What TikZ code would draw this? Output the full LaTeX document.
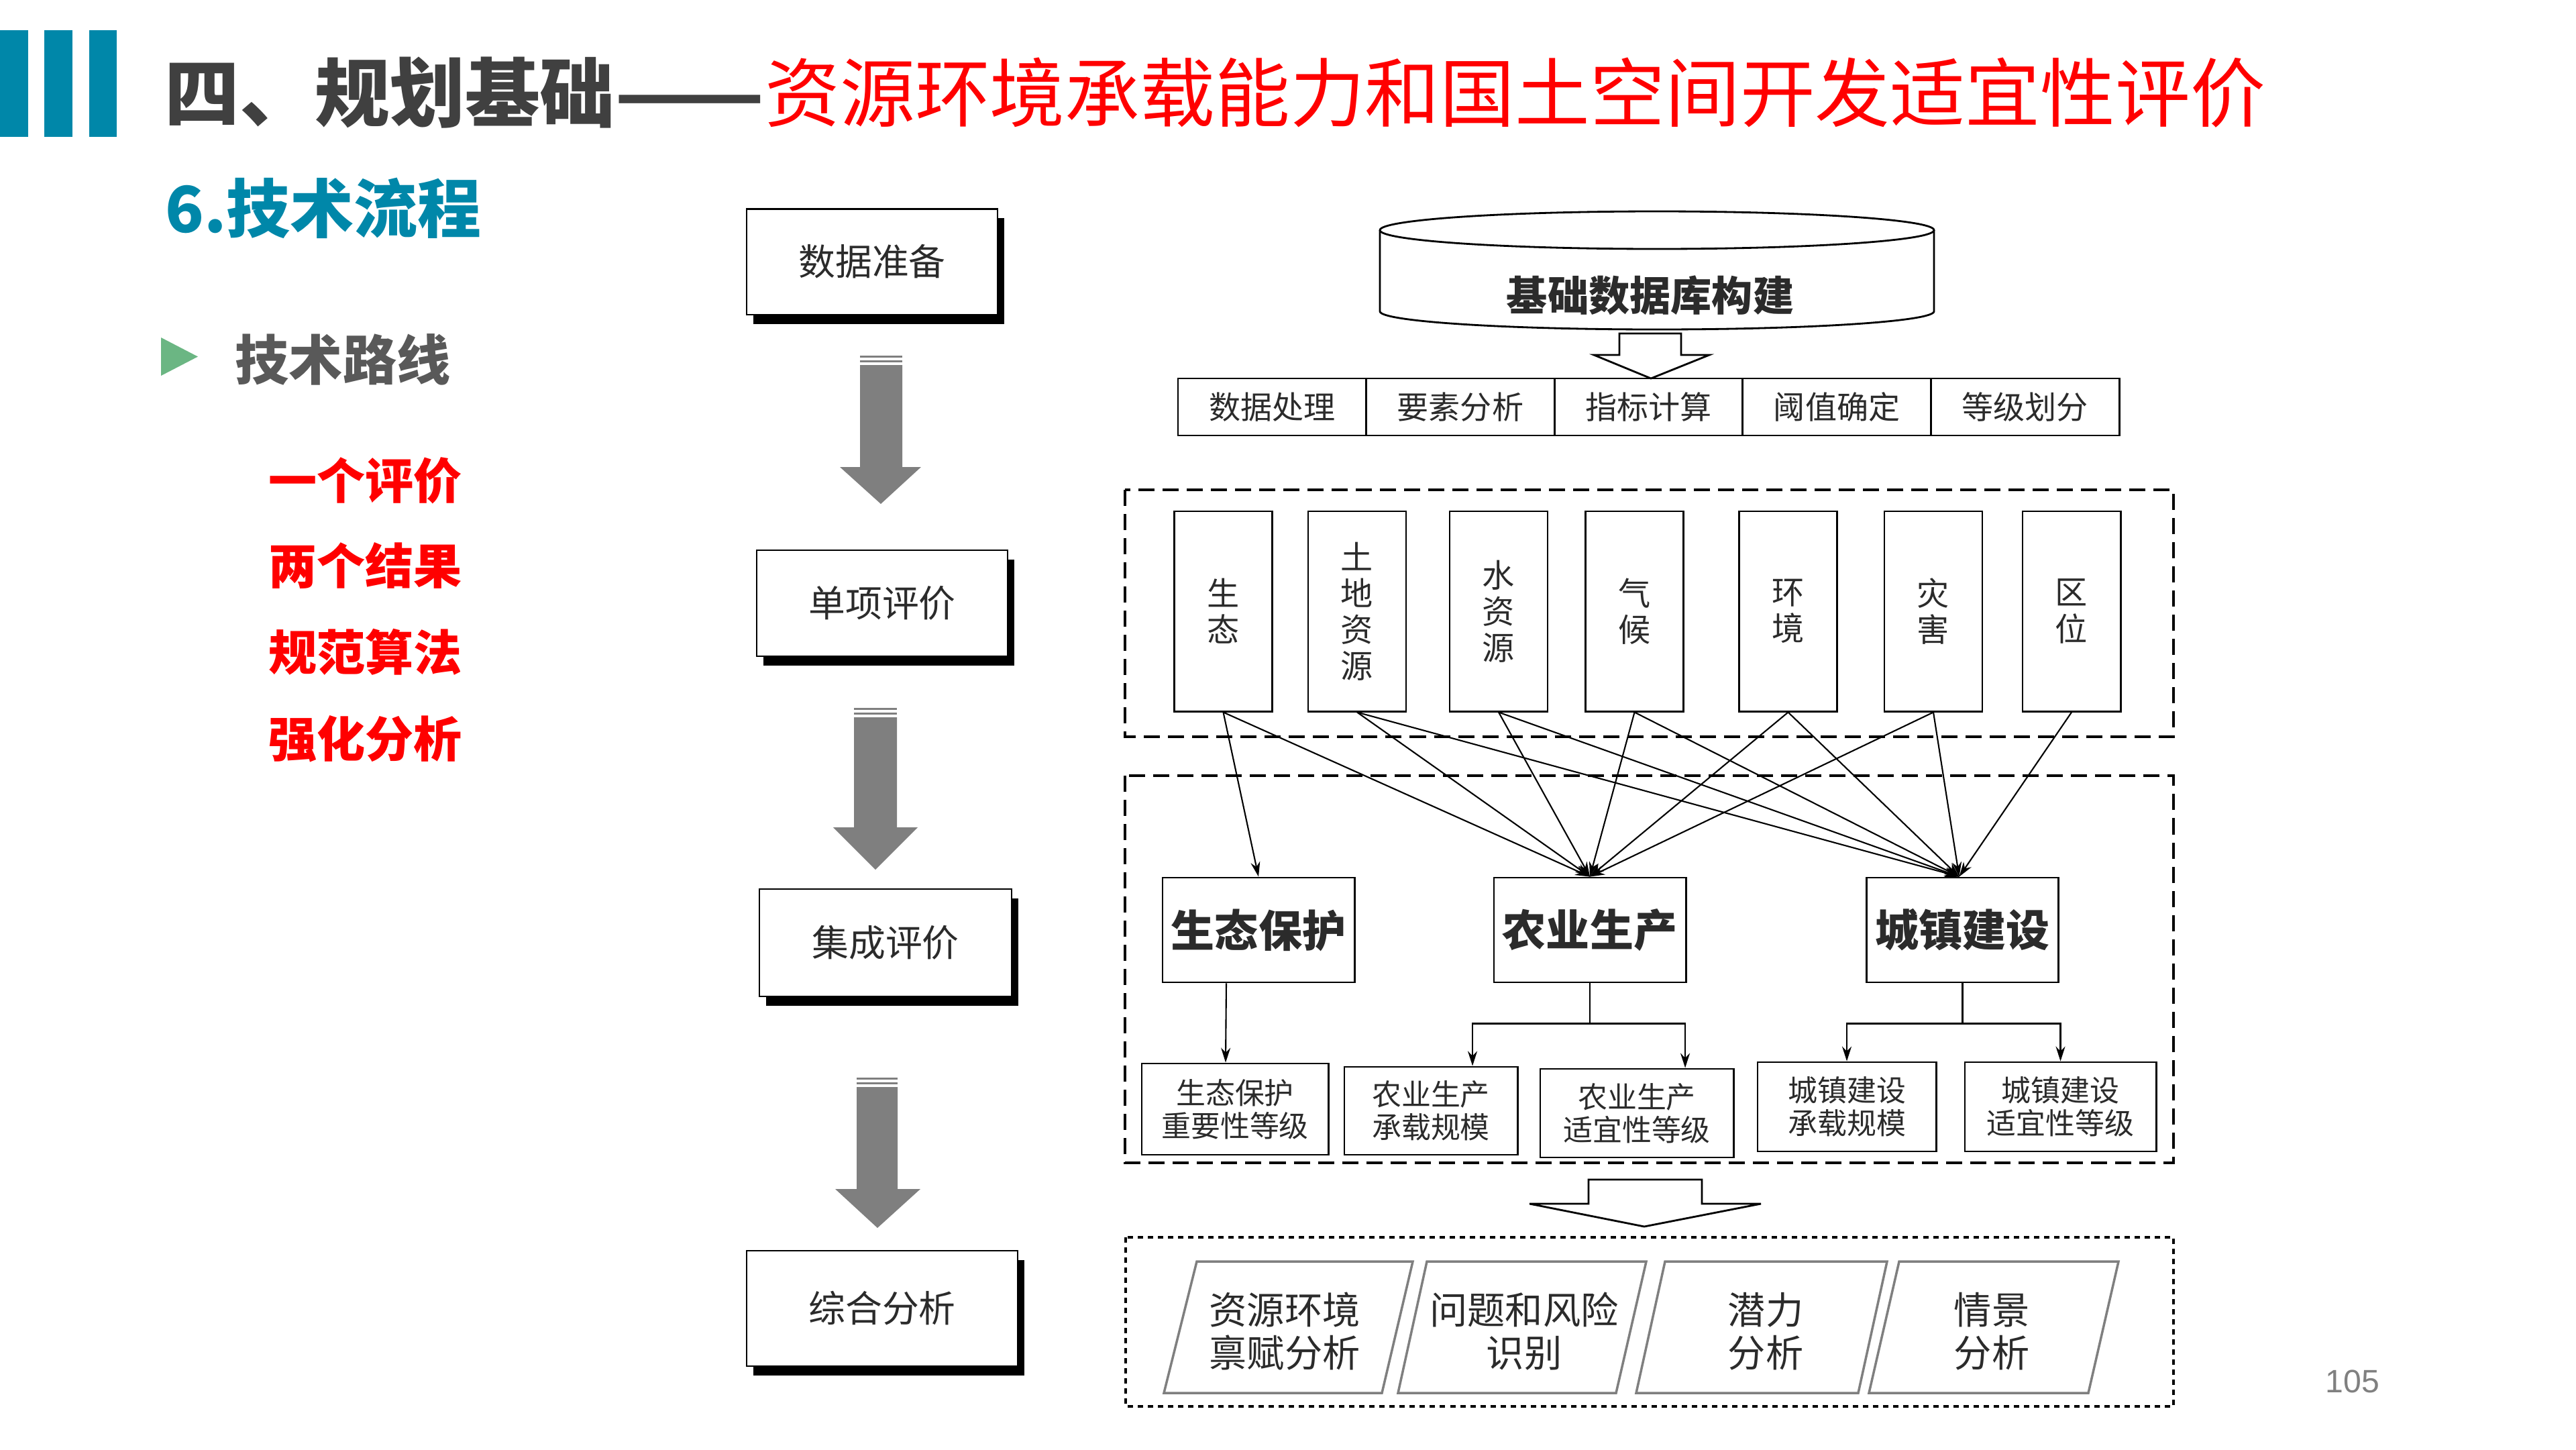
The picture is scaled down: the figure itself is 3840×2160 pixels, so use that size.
\documentclass[tikz,border=0pt]{standalone}
\usepackage{fontspec}
\usepackage{graphicx}
\setmainfont{Noto Sans CJK SC}
\newfontfamily\latinsans{Liberation Sans}
\usetikzlibrary{shadows,arrows.meta,calc}
\definecolor{titlegray}{HTML}{404040}
\definecolor{barblue}{HTML}{0087A9}
\definecolor{subgray}{HTML}{595959}
\definecolor{trigreen}{HTML}{6BB683}
\definecolor{arrgray}{HTML}{7F7F7F}
\definecolor{txt}{HTML}{2B2B2B}
\definecolor{pagegray}{HTML}{808080}
\definecolor{titlered}{HTML}{FF0000}
\newcommand\setfs[2]{\fontsize{#1pt}{#2pt}\selectfont}
\tikzset{
  ln/.style={line width=0.8pt, draw=black},
  arr/.style={line width=0.6pt, draw=black, -{Stealth[length=2.2mm,width=1.4mm]}},
  leftbox/.style={draw, line width=0.6pt, fill=white, inner sep=0pt, text=txt,
    font={\setfs{15.6}{18}},
    drop shadow={shadow xshift=1mm, shadow yshift=-1.4mm, fill=black, opacity=1}},
  cellbox/.style={draw, line width=0.8pt, minimum width=2.806cm, minimum height=0.85cm,
    inner sep=0pt, text=txt, font={\setfs{13.4}{15}}},
  tallbox/.style={draw, line width=0.8pt, minimum width=1.46cm, minimum height=2.98cm,
    inner sep=0pt, align=center, text=txt, font={\setfs{13.7}{15.4}}},
  midbox/.style={draw, line width=0.8pt, minimum width=2.86cm, minimum height=1.56cm,
    inner sep=0pt, text=txt, font={\setfs{18.5}{20}\bfseries}},
  smallbox/.style={draw, line width=0.8pt, inner sep=0pt, align=center, text=txt,
    font={\setfs{12.5}{14}}},
  dashbox/.style={line width=1pt, dash pattern=on 0.24cm off 0.12cm},
  dotbox/.style={line width=1pt, dash pattern=on 0.08cm off 0.07cm},
  parashape/.style={draw=arrgray, line width=1pt, fill=white},
  paratext/.style={inner sep=0pt, align=center, text=txt, font={\setfs{16}{18.2}}},
  hollow/.style={line width=0.8pt, draw=black, fill=white},
  grayarrow/.style={fill=arrgray},
}
\begin{document}
\begin{tikzpicture}[x=0.01cm, y=-0.01cm]
\useasboundingbox (0,0) rectangle (3840,2160);

% header bars
\fill[barblue] (0,45) rectangle (42,204);
\fill[barblue] (66,45) rectangle (108,204);
\fill[barblue] (133,45) rectangle (174,204);

% title
\node[anchor=west, inner sep=0pt, font={\setfs{31.8}{34}}] (title) at (245,138)
  {\textcolor{titlegray}{\bfseries 四、规划基础\resizebox{2em}{\height}{——}}\textcolor{titlered}{资源环境承载能力和国土空间开发适宜性评价}};

% subtitle
\node[anchor=west, inner sep=0pt, text=barblue, font={\setfs{27}{30}\bfseries}] (sub) at (246,310) {6.技术流程};

% bullet
\fill[trigreen] (240,503) -- (295,531.5) -- (240,560) -- cycle;
\node[anchor=west, inner sep=0pt, text=subgray, font={\setfs{22.8}{25}\bfseries}] (route) at (350,536) {技术路线};

% red list
\node[anchor=west, inner sep=0pt, text=titlered, font={\setfs{20.5}{23}\bfseries}] (r1) at (400,716) {一个评价};
\node[anchor=west, inner sep=0pt, text=titlered, font={\setfs{20.5}{23}\bfseries}] (r2) at (400,843) {两个结果};
\node[anchor=west, inner sep=0pt, text=titlered, font={\setfs{20.5}{23}\bfseries}] (r3) at (400,972) {规范算法};
\node[anchor=west, inner sep=0pt, text=titlered, font={\setfs{20.5}{23}\bfseries}] (r4) at (400,1101) {强化分析};

% page number
\node[inner sep=0pt, text=pagegray, font={\latinsans\setfs{13.7}{15}}] (page) at (3507,2059) {105};

% left column
\node[leftbox, minimum width=3.74cm, minimum height=1.57cm] (s1) at (1300,390) {数据准备};
\node[leftbox, minimum width=3.74cm, minimum height=1.58cm] (s2) at (1315,899) {单项评价};
\node[leftbox, minimum width=3.75cm, minimum height=1.60cm] (s3) at (1320,1405) {集成评价};
\node[leftbox, minimum width=4.04cm, minimum height=1.72cm] (s4) at (1315,1950) {综合分析};

% gray arrows
\fill[grayarrow] (1282,530) rectangle (1345,533);
\fill[grayarrow] (1282,537) rectangle (1345,540);
\fill[grayarrow] (1282,544) -- (1345,544) -- (1345,696) -- (1373,696) -- (1313,751) -- (1252,696) -- (1282,696) -- cycle;

\fill[grayarrow] (1273,1055) rectangle (1337,1058);
\fill[grayarrow] (1273,1062) rectangle (1337,1065);
\fill[grayarrow] (1273,1069) -- (1337,1069) -- (1337,1233) -- (1368,1233) -- (1305,1296) -- (1242,1233) -- (1273,1233) -- cycle;

\fill[grayarrow] (1277,1606) rectangle (1338,1609);
\fill[grayarrow] (1277,1613) rectangle (1338,1616);
\fill[grayarrow] (1277,1620) -- (1338,1620) -- (1338,1772) -- (1372,1772) -- (1308,1830) -- (1245,1772) -- (1277,1772) -- cycle;

% database cylinder
\draw[ln, fill=white] (2057,343) -- (2057,464) arc[start angle=180, end angle=0, x radius=413, y radius=27] -- (2883,343);
\draw[ln, fill=white] (2470,343) ellipse [x radius=413, y radius=28];
\node[inner sep=0pt, text=txt, font={\setfs{17.4}{19}\bfseries}] (db) at (2460,440) {基础数据库构建};

% hollow arrow 1
\draw[hollow] (2414,497) -- (2506,497) -- (2506,529) -- (2548,529) -- (2461,564) -- (2376,529) -- (2414,529) -- cycle;

% row of steps
\node[cellbox] (c1) at (1896.3,606.5) {数据处理};
\node[cellbox] (c2) at (2176.9,606.5) {要素分析};
\node[cellbox] (c3) at (2457.5,606.5) {指标计算};
\node[cellbox] (c4) at (2738.1,606.5) {阈值确定};
\node[cellbox] (c5) at (3018.7,606.5) {等级划分};

% dashed groups
\draw[dashbox] (1677,730) rectangle (3240,1098);
\draw[dashbox] (1677,1156) rectangle (3240,1733);
\draw[dotbox] (1678,1844) rectangle (3240,2096);

% tall boxes
\node[tallbox] (t1) at (1823.5,911) {生\\态};
\node[tallbox] (t2) at (2023,911) {土\\地\\资\\源};
\node[tallbox] (t3) at (2234,911) {水\\资\\源};
\node[tallbox] (t4) at (2436.5,911) {气\\候};
\node[tallbox] (t5) at (2665.5,911) {环\\境};
\node[tallbox] (t6) at (2882,911) {灾\\害};
\node[tallbox] (t7) at (3088,911) {区\\位};

% middle boxes
\node[midbox] (eco) at (1876,1386) {生态保护};
\node[midbox] (agr) at (2370,1386) {农业生产};
\node[midbox] (urb) at (2925.5,1386) {城镇建设};

% connections from single evaluations
\draw[arr] (t1.south) -- (eco.north);
\foreach \t in {t1,t2,t3,t4,t5,t6} \draw[arr] (\t.south) -- (agr.north);
\foreach \t in {t2,t3,t4,t5,t6,t7} \draw[arr] (\t.south) -- ([xshift=-0.05cm]urb.north);

% result boxes
\node[smallbox, minimum width=2.78cm, minimum height=1.36cm] (b1) at (1841,1653) {生态保护\\重要性等级};
\node[smallbox, minimum width=2.58cm, minimum height=1.31cm] (b2) at (2133,1655.5) {农业生产\\承载规模};
\node[smallbox, minimum width=2.88cm, minimum height=1.32cm] (b3) at (2440,1659) {农业生产\\适宜性等级};
\node[smallbox, minimum width=2.66cm, minimum height=1.33cm] (b4) at (2753,1649.5) {城镇建设\\承载规模};
\node[smallbox, minimum width=2.85cm, minimum height=1.33cm] (b5) at (3071.5,1649.5) {城镇建设\\适宜性等级};

\draw[arr] ([xshift=-0.48cm]eco.south) -- ([xshift=-0.14cm]b1.north);
\coordinate (aj) at ($(agr.south)+(0,60)$);
\draw[ln, line width=0.6pt] (agr.south) -- (aj);
\draw[arr] (aj) -| ([xshift=0.62cm]b2.north);
\draw[arr] (aj) -| ([xshift=0.72cm]b3.north);
\coordinate (uj) at ($(urb.south)+(0,60)$);
\draw[ln, line width=0.6pt] (urb.south) -- (uj);
\draw[arr] (uj) -| (b4.north);
\draw[arr] (uj) -| (b5.north);

% hollow arrow 2
\draw[hollow] (2368,1758) -- (2537,1758) -- (2537,1794) -- (2625,1794) -- (2451,1828) -- (2280,1794) -- (2368,1794) -- cycle;

% parallelograms
\draw[parashape] (1784,1880) -- (2106,1880) -- (2060,2076) -- (1735,2076) -- cycle;
\draw[parashape] (2127,1880) -- (2454,1880) -- (2409,2076) -- (2084,2076) -- cycle;
\draw[parashape] (2482,1880) -- (2813,1880) -- (2770,2076) -- (2439,2076) -- cycle;
\draw[parashape] (2831,1880) -- (3158,1880) -- (3113,2076) -- (2786,2076) -- cycle;
\node[paratext] (p1) at (1915,1984) {资源环境\\禀赋分析};
\node[paratext] (p2) at (2272,1984) {问题和风险\\识别};
\node[paratext] (p3) at (2632,1984) {潜力\\分析};
\node[paratext] (p4) at (2969,1984) {情景\\分析};
\end{tikzpicture}
\end{document}
